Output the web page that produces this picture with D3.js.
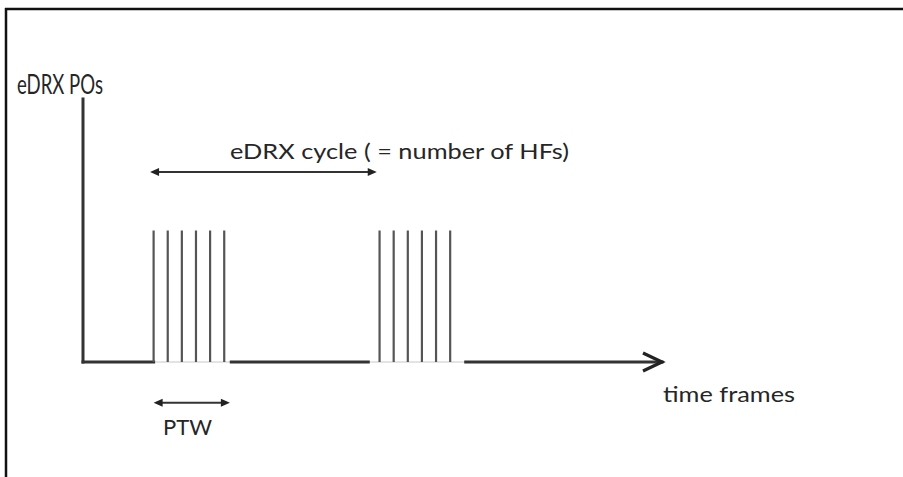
<!DOCTYPE html>
<html><head><meta charset="utf-8">
<script src="https://cdn.jsdelivr.net/npm/d3@7"></script>
<style>html,body{margin:0;padding:0;background:#fff;}svg{display:block;}</style>
</head><body>
<svg id="c" width="903" height="477"></svg>
<script>
// ---- data (time units / normalised heights) ----
const burst1 = [5, 6, 7, 8, 9, 10];          // paging occasions in first PTW
const burst2 = [21, 22, 23, 24, 25, 26];     // paging occasions in next PTW
const poHeight = 1;
const baselineSegments = [[0, 5], [10.5, 20.2], [27.1, 41]];
const gapSegments = [[5, 10.5], [20.2, 27.1]];
const cycleArrow = [4.75, 20.8];
const cycleArrowLevel = 1.445;
const ptwArrow = [5.0, 10.4];
const ptwArrowLevel = -0.31;
const labels = {
  yTitle: "eDRX POs",
  xTitle: "time frames",
  cycle: "eDRX cycle ( = number of HFs)",
  ptw: "PTW"
};

const svg = d3.select("#c");
const x = d3.scaleLinear().domain([0, 41]).range([83, 662]);
const y = d3.scaleLinear().domain([0, 2]).range([362, 99]);

// frame
svg.append("line").attr("x1", 5).attr("x2", 903).attr("y1", 9).attr("y2", 9)
  .attr("stroke", "#111").attr("stroke-width", 2.5);
svg.append("line").attr("x1", 6).attr("x2", 6).attr("y1", 8).attr("y2", 477)
  .attr("stroke", "#111").attr("stroke-width", 2.5);

const axisCol = "#333";
// thin baseline inside bursts
svg.selectAll("line.gap").data(gapSegments).join("line").attr("class", "gap")
  .attr("x1", d => x(d[0])).attr("x2", d => x(d[1]))
  .attr("y1", y(0)).attr("y2", y(0))
  .attr("stroke", "#c8c8c8").attr("stroke-width", 1);

// thick baseline segments
svg.selectAll("line.base").data(baselineSegments).join("line").attr("class", "base")
  .attr("x1", d => x(d[0])).attr("x2", d => x(d[1]))
  .attr("y1", y(0)).attr("y2", y(0))
  .attr("stroke", axisCol).attr("stroke-width", 3).attr("stroke-linecap", "square");

// vertical axis
svg.append("line").attr("x1", x(0)).attr("x2", x(0)).attr("y1", y(0)).attr("y2", y(2))
  .attr("stroke", axisCol).attr("stroke-width", 3).attr("stroke-linecap", "square");

// axis arrow head (open chevron)
const xe = x(41);
svg.append("path")
  .attr("d", `M${xe - 19},${y(0) - 9} L${xe},${y(0)} L${xe - 19},${y(0) + 9}`)
  .attr("fill", "none").attr("stroke", "#222").attr("stroke-width", 3.2)
  .attr("stroke-linejoin", "miter");

// paging occasions
svg.selectAll("line.po").data(burst1.concat(burst2)).join("line").attr("class", "po")
  .attr("x1", d => x(d)).attr("x2", d => x(d))
  .attr("y1", y(0)).attr("y2", y(poHeight))
  .attr("stroke", "#555").attr("stroke-width", 2.2);

// double arrows
function dblArrow(a, lvl) {
  const x1 = x(a[0]), x2 = x(a[1]), yy = y(lvl);
  svg.append("line").attr("x1", x1 + 3).attr("x2", x2 - 3).attr("y1", yy).attr("y2", yy)
    .attr("stroke", "#333").attr("stroke-width", 1.8);
  svg.append("path").attr("d", `M${x1},${yy} L${x1 + 9},${yy - 4} L${x1 + 9},${yy + 4} Z`).attr("fill", "#222");
  svg.append("path").attr("d", `M${x2},${yy} L${x2 - 9},${yy - 4} L${x2 - 9},${yy + 4} Z`).attr("fill", "#222");
}
dblArrow(cycleArrow, cycleArrowLevel);
dblArrow(ptwArrow, ptwArrowLevel);

// texts
const font = "Lato, 'Open Sans', sans-serif";
function txt(s, tx, ty, size, w) {
  svg.append("text").attr("x", tx).attr("y", ty).text(s)
    .attr("font-family", font).attr("font-size", size).attr("fill", "#262626")
    .attr("textLength", w).attr("lengthAdjust", "spacingAndGlyphs");
}
txt(labels.yTitle, 17, 94, 26, 86);
txt(labels.cycle, 230, 159, 22, 339);
txt(labels.xTitle, 663, 402, 22, 132);
txt(labels.ptw, 163, 435, 22, 49);
</script>
</body></html>
